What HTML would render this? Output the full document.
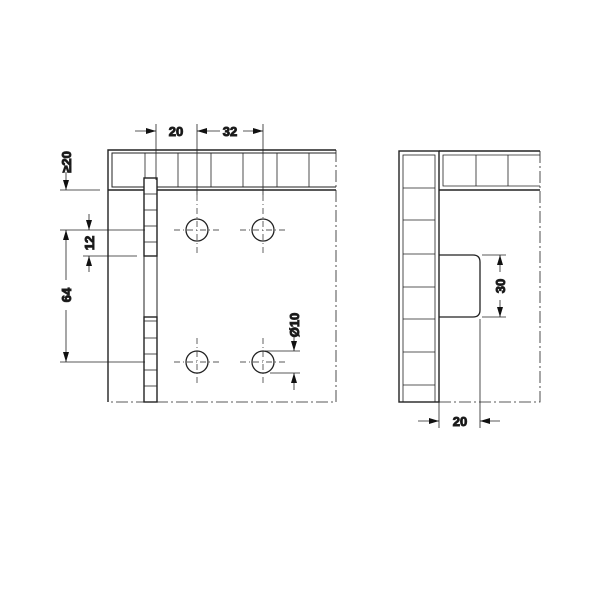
<!DOCTYPE html>
<html><head><meta charset="utf-8"><style>
html,body{margin:0;padding:0;background:#fff;}
svg{display:block}
text{font-family:"Liberation Sans",sans-serif;font-weight:bold;font-size:13px;fill:#111}
</style></head><body>
<svg width="600" height="600" viewBox="0 0 600 600" xmlns="http://www.w3.org/2000/svg">
<defs>
<marker id="a" viewBox="0 0 10 6" refX="10" refY="3" markerWidth="10" markerHeight="6" orient="auto" markerUnits="userSpaceOnUse"><path d="M0,0 L10,3 L0,6 z" fill="#111"/></marker>
</defs>
<g stroke="#222" fill="none" stroke-width="1">
<path d="M336,150 H108 V402" stroke-width="1.4"/>
<path d="M336,153 H112 V187 H336" />
<path d="M108,190 H336" stroke-width="1.4"/>
<g stroke-width="0.8">
<line x1="145" y1="153" x2="145" y2="187"/>
<line x1="178" y1="153" x2="178" y2="187"/>
<line x1="211" y1="153" x2="211" y2="187"/>
<line x1="243" y1="153" x2="243" y2="187"/>
<line x1="277" y1="153" x2="277" y2="187"/>
<line x1="309" y1="153" x2="309" y2="187"/>
</g>
<path d="M336,150 V402 H108" stroke-dasharray="12,3,2,3" stroke-width="0.8"/>
<rect x="144" y="178" width="13" height="224" fill="#fff" stroke-width="1"/>
<rect x="144" y="178" width="13" height="78" stroke-width="1.4" fill="#fff"/>
<rect x="144" y="317" width="13" height="85" stroke-width="1.4" fill="#fff"/>
<g stroke-width="0.8">
<line x1="144" y1="194" x2="157" y2="194"/>
<line x1="144" y1="210" x2="157" y2="210"/>
<line x1="144" y1="226" x2="157" y2="226"/>
<line x1="144" y1="242" x2="157" y2="242"/>
<line x1="144" y1="321" x2="157" y2="321"/>
<line x1="144" y1="338" x2="157" y2="338"/>
<line x1="144" y1="354" x2="157" y2="354"/>
<line x1="144" y1="370" x2="157" y2="370"/>
<line x1="144" y1="386" x2="157" y2="386"/>
</g>
<g stroke-width="1.3">
<circle cx="197" cy="230" r="11"/><circle cx="263" cy="230" r="11"/>
<circle cx="197" cy="362" r="11"/><circle cx="263" cy="362" r="11"/>
</g>
<g stroke-width="0.7" stroke-dasharray="6,3,1,3">
<line x1="174" y1="230" x2="220" y2="230"/>
<line x1="240" y1="230" x2="286" y2="230"/>
<line x1="174" y1="362" x2="220" y2="362"/>
<line x1="240" y1="362" x2="286" y2="362"/>
<line x1="197" y1="195" x2="197" y2="255"/>
<line x1="263" y1="195" x2="263" y2="255"/>
<line x1="197" y1="338" x2="197" y2="386"/>
<line x1="263" y1="338" x2="263" y2="386"/>
</g>
<g stroke-width="0.8">
<line x1="156" y1="124" x2="156" y2="180"/>
<line x1="197" y1="124" x2="197" y2="195"/>
<line x1="263" y1="124" x2="263" y2="195"/>
<line x1="135" y1="131" x2="156" y2="131" marker-end="url(#a)"/>
<line x1="220" y1="131" x2="197" y2="131" marker-end="url(#a)"/>
<line x1="243" y1="131" x2="263" y2="131" marker-end="url(#a)"/>
<line x1="60" y1="190" x2="100" y2="190"/>
<line x1="66" y1="172" x2="66" y2="190" marker-end="url(#a)"/>
<line x1="60" y1="230" x2="145" y2="230"/>
<line x1="83" y1="256" x2="137" y2="256"/>
<line x1="60" y1="362" x2="145" y2="362"/>
<line x1="89" y1="214" x2="89" y2="230" marker-end="url(#a)"/>
<line x1="89" y1="272" x2="89" y2="256" marker-end="url(#a)"/>
<line x1="66" y1="280" x2="66" y2="230" marker-end="url(#a)"/>
<line x1="66" y1="310" x2="66" y2="362" marker-end="url(#a)"/>
<line x1="265" y1="351" x2="300" y2="351"/>
<line x1="270" y1="373" x2="300" y2="373"/>
<line x1="294" y1="335" x2="294" y2="351" marker-end="url(#a)"/>
<line x1="294" y1="390" x2="294" y2="373" marker-end="url(#a)"/>

<rect x="399" y="151" width="40" height="251" stroke-width="1.4"/>
<rect x="403" y="155" width="32" height="247" stroke-width="0.8"/>
<g stroke-width="0.8">
<line x1="403" y1="188" x2="435" y2="188"/>
<line x1="403" y1="220" x2="435" y2="220"/>
<line x1="403" y1="254" x2="435" y2="254"/>
<line x1="403" y1="287" x2="435" y2="287"/>
<line x1="403" y1="319" x2="435" y2="319"/>
<line x1="403" y1="352" x2="435" y2="352"/>
<line x1="403" y1="385" x2="435" y2="385"/>
</g>
<path d="M439,151 H540" stroke-width="1.4"/>
<path d="M540,155 H443 V186 H540" stroke-width="0.8"/>
<path d="M439,190 H540" stroke-width="1.4"/>
<line x1="476" y1="155" x2="476" y2="186" stroke-width="0.8"/>
<line x1="508" y1="155" x2="508" y2="186" stroke-width="0.8"/>
<path d="M540,151 V402 H439" stroke-dasharray="12,3,2,3" stroke-width="0.8"/>
<path d="M439,255 H473 Q480,255 480,262 V310 Q480,317 473,317 H439" stroke-width="1.3"/>
<g stroke-width="0.8">
<line x1="482" y1="255" x2="506" y2="255"/>
<line x1="482" y1="317" x2="506" y2="317"/>
<line x1="500" y1="272" x2="500" y2="255" marker-end="url(#a)"/>
<line x1="500" y1="300" x2="500" y2="317" marker-end="url(#a)"/>
<line x1="439" y1="402" x2="439" y2="428"/>
<line x1="480" y1="319" x2="480" y2="428"/>
<line x1="418" y1="421" x2="439" y2="421" marker-end="url(#a)"/>
<line x1="500" y1="421" x2="480" y2="421" marker-end="url(#a)"/>
</g>
</g>
<text x="176" y="136" text-anchor="middle">20</text>
<text x="230" y="136" text-anchor="middle">32</text>
<text x="460" y="426" text-anchor="middle">20</text>
<text transform="translate(71,162) rotate(-90)" text-anchor="middle">≥20</text>
<text transform="translate(94,243) rotate(-90)" text-anchor="middle">12</text>
<text transform="translate(71,295) rotate(-90)" text-anchor="middle">64</text>
<text transform="translate(299,325) rotate(-90)" text-anchor="middle">Ø10</text>
<text transform="translate(505,286) rotate(-90)" text-anchor="middle">30</text>
</svg>
</body></html>
